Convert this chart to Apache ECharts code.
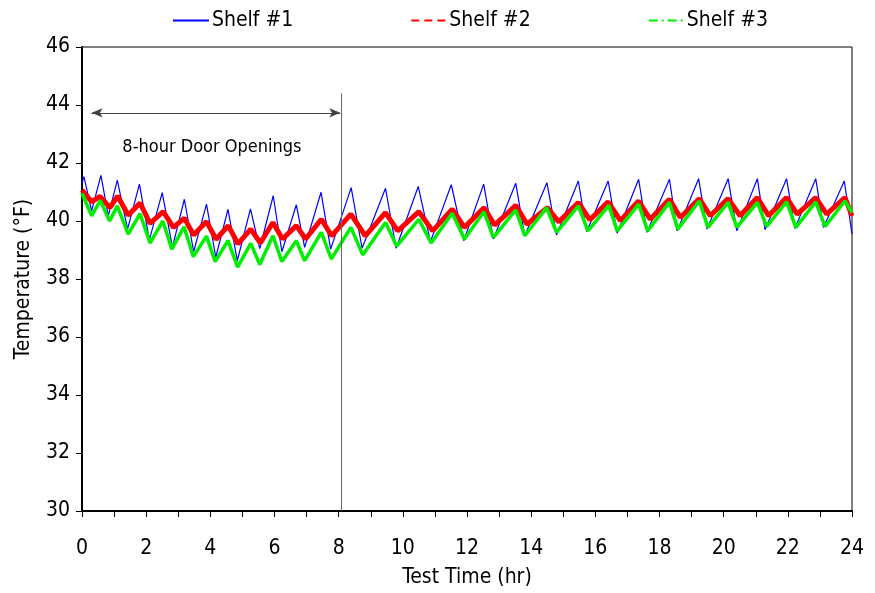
<!DOCTYPE html>
<html>
<head>
<meta charset="utf-8">
<title>Shelf temperatures</title>
<script src="https://cdn.jsdelivr.net/npm/echarts@6/dist/echarts.min.js"></script>
<style>
  html, body { margin: 0; padding: 0; background: #fff; }
  #main { width: 875px; height: 593px; }
</style>
</head>
<body>
<div id="main"></div>
<script>
// series names
var seriesNames = ['Shelf #1', 'Shelf #2', 'Shelf #3'];

// [test time (hr), temperature (F)], peaks and troughs of each cycle
var shelf1 = [
  [0, 41.3], [0.06, 41.53], [0.30, 40.35], [0.59, 41.57], [0.82, 40.18], [1.10, 41.41],
  [1.42, 39.72], [1.79, 41.27], [2.10, 39.35], [2.50, 40.98], [2.82, 39.1], [3.19, 40.75],
  [3.48, 38.94], [3.88, 40.58], [4.17, 38.75], [4.55, 40.40], [4.84, 38.63], [5.25, 40.42],
  [5.54, 39.05], [5.96, 40.87], [6.23, 38.94], [6.68, 40.56], [6.94, 39.09], [7.45, 40.99],
  [7.75, 39.03], [8.39, 41.15], [8.73, 39.06], [9.46, 41.13], [9.79, 39.06], [10.48, 41.19],
  [10.86, 39.29], [11.51, 41.25], [11.90, 39.32], [12.52, 41.27], [12.82, 39.38], [13.52, 41.30],
  [13.80, 39.49], [14.49, 41.32], [14.79, 39.52], [15.47, 41.38], [15.73, 39.63], [16.40, 41.38],
  [16.68, 39.58], [17.35, 41.44], [17.61, 39.61], [18.31, 41.44], [18.55, 39.66], [19.22, 41.46],
  [19.48, 39.72], [20.14, 41.46], [20.41, 39.66], [21.05, 41.46], [21.29, 39.70], [21.96, 41.46],
  [22.22, 39.74], [22.87, 41.46], [23.11, 39.78], [23.76, 41.38], [24.0, 39.55]
];
var shelf2 = [
  [0, 41.07], [0.30, 40.66], [0.56, 40.85], [0.87, 40.46], [1.11, 40.86], [1.44, 40.2],
  [1.81, 40.62], [2.12, 39.92], [2.53, 40.32], [2.85, 39.78], [3.19, 40.1], [3.48, 39.52],
  [3.88, 39.98], [4.18, 39.37], [4.56, 39.84], [4.86, 39.21], [5.26, 39.72], [5.56, 39.24],
  [5.95, 39.95], [6.25, 39.38], [6.68, 39.84], [6.97, 39.38], [7.46, 40.06], [7.78, 39.49],
  [8.38, 40.24], [8.83, 39.49], [9.46, 40.29], [9.84, 39.66], [10.50, 40.32], [10.93, 39.66],
  [11.54, 40.41], [11.92, 39.78], [12.53, 40.46], [12.86, 39.86], [13.52, 40.54], [13.87, 39.89],
  [14.50, 40.46], [14.86, 39.97], [15.47, 40.64], [15.83, 40.04], [16.40, 40.66], [16.78, 40.01],
  [17.35, 40.69], [17.71, 40.06], [18.31, 40.75], [18.65, 40.12], [19.24, 40.77], [19.58, 40.18],
  [20.14, 40.77], [20.51, 40.18], [21.05, 40.81], [21.40, 40.18], [21.96, 40.81], [22.29, 40.24],
  [22.87, 40.81], [23.21, 40.24], [23.78, 40.81], [24.0, 40.18]
];
var shelf3 = [
  [0, 40.95], [0.04, 40.9], [0.30, 40.18], [0.57, 40.71], [0.86, 40.0], [1.10, 40.52],
  [1.44, 39.55], [1.81, 40.25], [2.12, 39.24], [2.52, 40.0], [2.80, 39.03], [3.18, 39.8],
  [3.47, 38.77], [3.88, 39.48], [4.15, 38.6], [4.55, 39.32], [4.85, 38.41], [5.26, 39.23],
  [5.54, 38.5], [5.95, 39.49], [6.23, 38.6], [6.68, 39.32], [6.94, 38.63], [7.46, 39.61],
  [7.77, 38.69], [8.38, 39.78], [8.75, 38.83], [9.46, 39.95], [9.81, 39.13], [10.50, 40.06],
  [10.88, 39.24], [11.54, 40.27], [11.92, 39.38], [12.53, 40.32], [12.82, 39.43], [13.52, 40.38],
  [13.80, 39.49], [14.48, 40.46], [14.79, 39.61], [15.47, 40.52], [15.77, 39.66], [16.42, 40.54],
  [16.68, 39.66], [17.35, 40.58], [17.63, 39.66], [18.31, 40.64], [18.57, 39.72], [19.24, 40.69],
  [19.51, 39.78], [20.14, 40.64], [20.41, 39.78], [21.05, 40.64], [21.34, 39.81], [21.96, 40.66],
  [22.25, 39.78], [22.87, 40.66], [23.16, 39.81], [23.78, 40.69], [24.0, 40.29]
];

// annotation: end of door openings and the arrow span
var doorEnd = 8.07;
var doorLineTop = 44.4;
var arrowSpan = [0.3, 8.05];
var arrowLevel = 43.73;
var noteText = '8-hour Door Openings';

var font = 'Liberation Sans Narrow, Arial Narrow, DejaVu Sans Condensed, sans-serif';

var option = {
  animation: false,
  textStyle: { fontFamily: font },
  legend: {
    top: 5,
    left: 168,
    itemGap: 118,
    itemWidth: 36,
    itemHeight: 2,
    textStyle: { fontSize: 21, color: '#000', fontFamily: font, padding: [0, 0, 0, -2] },
    data: [
      { name: seriesNames[0], icon: 'path://M0,0h36v2h-36z' },
      { name: seriesNames[1], icon: 'path://M0,0h8v2h-8zM13,0h8v2h-8zM26,0h8v2h-8z' },
      { name: seriesNames[2], icon: 'path://M0,0h9v2h-9zM13,0h2v2h-2zM19,0h9v2h-9zM32,0h2v2h-2z' }
    ]
  },
  grid: {
    left: 82, right: 23, top: 47, bottom: 80,
    show: true, borderColor: '#000', borderWidth: 1
  },
  xAxis: {
    type: 'value',
    min: 0, max: 24, interval: 2,
    name: 'Test Time (hr)',
    nameLocation: 'middle',
    nameGap: 56,
    nameTextStyle: { fontSize: 21, color: '#000', fontFamily: font },
    axisLine: { lineStyle: { color: '#000', width: 2 } },
    axisTick: { inside: false, length: 6, lineStyle: { color: '#000', width: 1 } },
    minorTick: { show: true, splitNumber: 2, length: 6, lineStyle: { color: '#000', width: 1 } },
    axisLabel: { fontSize: 21, color: '#000', margin: 27, fontFamily: font },
    splitLine: { show: false }
  },
  yAxis: {
    type: 'value',
    min: 30, max: 46, interval: 2,
    name: 'Temperature (°F)',
    nameLocation: 'middle',
    nameGap: 48,
    nameTextStyle: { fontSize: 21, color: '#000', fontFamily: font },
    axisLine: { show: true, lineStyle: { color: '#000', width: 2 } },
    axisTick: { show: true, inside: false, length: 6, lineStyle: { color: '#000', width: 1 } },
    axisLabel: { fontSize: 21, color: '#000', margin: 12, fontFamily: font },
    splitLine: { show: false }
  },
  series: [
    {
      name: seriesNames[0],
      type: 'line',
      data: shelf1,
      showSymbol: false,
      z: 2,
      lineStyle: { color: '#0000ff', width: 1.2 },
      itemStyle: { color: '#0000ff' },
      markLine: {
        silent: true,
        symbol: ['none', 'none'],
        label: { show: false },
        data: [
          [
            { coord: [doorEnd, 30], lineStyle: { color: '#666', width: 1, type: 'solid' } },
            { coord: [doorEnd, doorLineTop] }
          ],
          [
            { coord: [arrowSpan[0], arrowLevel], symbol: 'arrow', symbolSize: [7, 11],
              lineStyle: { color: '#404040', width: 1, type: 'solid' } },
            { coord: [arrowSpan[1], arrowLevel], symbol: 'arrow', symbolSize: [7, 11] }
          ]
        ]
      },
      markPoint: {
        silent: true,
        symbol: 'circle',
        symbolSize: 1,
        itemStyle: { color: 'rgba(0,0,0,0)' },
        data: [{
          coord: [4.05, 42.55],
          label: { show: true, position: 'inside', formatter: noteText, fontSize: 18, color: '#000', fontFamily: font }
        }]
      }
    },
    {
      name: seriesNames[1],
      type: 'line',
      data: shelf2,
      showSymbol: false,
      z: 3,
      lineStyle: { color: '#ff0000', width: 5 },
      itemStyle: { color: '#ff0000' }
    },
    {
      name: seriesNames[2],
      type: 'line',
      data: shelf3,
      showSymbol: false,
      z: 4,
      lineStyle: { color: '#00ee00', width: 3.5 },
      itemStyle: { color: '#00ee00' }
    }
  ]
};

var myChart = echarts.init(document.getElementById('main'));
myChart.setOption(option);
</script>
</body>
</html>
